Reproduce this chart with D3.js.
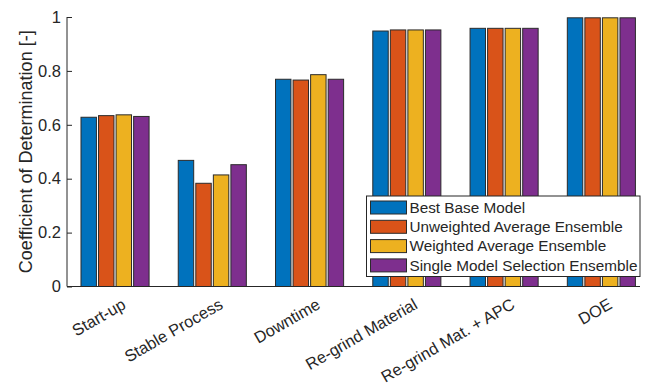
<!DOCTYPE html>
<html lang="en">
<head>
    <meta charset="UTF-8">
    <title>Coefficient of Determination</title>
    <script src="https://d3js.org/d3.v7.min.js"></script>
    <style>
        body { margin: 0; background: #fff; }
        text { font-family: "Liberation Sans", Arial, sans-serif; fill: #262626; }
    </style>
</head>
<body>
    <svg id="chart" width="652" height="387"></svg>

    <script>
        // data
        const categories = ['Start-up', 'Stable Process', 'Downtime', 'Re-grind Material', 'Re-grind Mat. + APC', 'DOE'];
        const seriesNames = ['Best Base Model', 'Unweighted Average Ensemble', 'Weighted Average Ensemble', 'Single Model Selection Ensemble'];
        const bestBase   = [0.628, 0.468, 0.769, 0.948, 0.958, 0.997];
        const unweighted = [0.634, 0.383, 0.766, 0.952, 0.958, 0.997];
        const weighted   = [0.637, 0.414, 0.786, 0.952, 0.958, 0.997];
        const singleSel  = [0.631, 0.452, 0.769, 0.952, 0.958, 0.997];
        const yTicks = [0, 0.2, 0.4, 0.6, 0.8, 1];
        const colors = ['#0072BD', '#D95319', '#EDB120', '#7E2F8E'];

        const allSeries = [bestBase, unweighted, weighted, singleSel];

        const svg = d3.select('#chart');
        const axisLeftX = 67, axisRightX = 640;

        // scales
        const x = d3.scaleBand().domain(categories).range([66.4, 650]).padding(0);
        const xs = d3.scaleBand().domain(seriesNames).range([0, x.bandwidth() * 0.7]).paddingInner(0.12);
        const y = d3.scaleLinear().domain([0, 1]).range([286.5, 17]);

        // bars
        categories.forEach((cat, i) => {
            const g = svg.append('g')
                .attr('transform', `translate(${x(cat) + x.bandwidth() * 0.15},0)`);
            seriesNames.forEach((s, j) => {
                const v = allSeries[j][i];
                g.append('rect')
                    .attr('x', xs(s))
                    .attr('y', y(v))
                    .attr('width', xs.bandwidth())
                    .attr('height', y(0) - y(v))
                    .attr('fill', colors[j])
                    .attr('stroke', '#2b2b2b')
                    .attr('stroke-width', 1);
            });
        });

        // y axis with inward ticks
        const yAxis = svg.append('g')
            .attr('transform', `translate(${axisLeftX},0)`)
            .call(d3.axisLeft(y).tickValues(yTicks).tickSize(-5).tickPadding(6).tickFormat(d => d3.format('')(d)));
        yAxis.select('.domain').remove();
        yAxis.selectAll('line').attr('stroke', '#262626');
        yAxis.selectAll('text').style('font-size', '16.5px').attr('fill', '#262626');
        svg.append('line')
            .attr('x1', axisLeftX).attr('x2', axisLeftX)
            .attr('y1', y(1)).attr('y2', y(0))
            .attr('stroke', '#262626');

        // x axis line
        svg.append('line')
            .attr('x1', axisLeftX).attr('x2', axisRightX)
            .attr('y1', y(0)).attr('y2', y(0))
            .attr('stroke', '#262626');

        // rotated category labels
        categories.forEach(cat => {
            svg.append('text')
                .attr('transform', `translate(${x(cat) + x.bandwidth() / 2 + 6},${y(0) + 11}) rotate(-30)`)
                .attr('text-anchor', 'end')
                .attr('dy', '0.71em')
                .style('font-size', '16.4px')
                .text(cat);
        });

        // y label
        svg.append('text')
            .attr('transform', `translate(31.5,${(y(0) + y(1)) / 2}) rotate(-90)`)
            .attr('text-anchor', 'middle')
            .style('font-size', '18px')
            .text('Coefficient of Determination [-]');

        // legend
        const lg = svg.append('g').attr('transform', 'translate(366.5,196)');
        lg.append('rect')
            .attr('width', 273.5).attr('height', 80.5)
            .attr('fill', '#fff')
            .attr('stroke', '#262626');
        seriesNames.forEach((s, j) => {
            const cy = 11.5 + j * 19.3;
            lg.append('rect')
                .attr('x', 4).attr('y', cy - 6.5)
                .attr('width', 36).attr('height', 13)
                .attr('fill', colors[j])
                .attr('stroke', '#2b2b2b');
            lg.append('text')
                .attr('x', 43).attr('y', cy)
                .attr('dy', '0.35em')
                .style('font-size', '15.3px')
                .text(s);
        });
    </script>
</body>
</html>
